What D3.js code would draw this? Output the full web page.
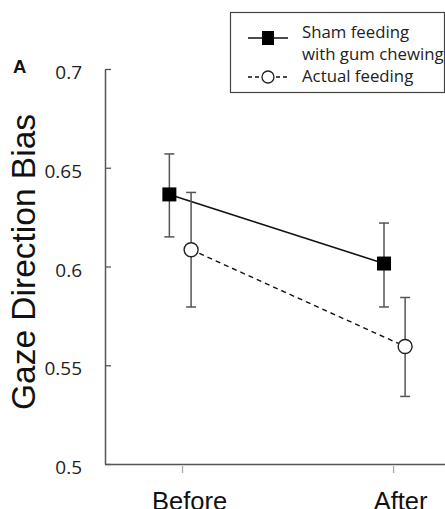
<!DOCTYPE html>
<html>
<head>
<meta charset="utf-8">
<script src="https://cdn.jsdelivr.net/npm/d3@7"></script>
<style>
  html, body { margin: 0; padding: 0; background: #fff; }
  svg { display: block; }
</style>
</head>
<body>
<div id="chart"></div>
<script>
// Gaze direction bias before / after feeding

const timepoints = ['Before', 'After'];
const timeIndex = [1, 2];
const yTicks = [0.5, 0.55, 0.6, 0.65, 0.7];

// sham feeding with gum chewing
const shamX = [0.94, 1.957];
const shamMean = [0.6365, 0.6015];
const shamUpper = [0.657, 0.622];
const shamLower = [0.615, 0.5795];

// actual feeding
const actualX = [1.043, 2.057];
const actualMean = [0.6085, 0.5595];
const actualUpper = [0.6375, 0.5843];
const actualLower = [0.5795, 0.5342];

const legendLabels = [['Sham feeding', 'with gum chewing'], ['Actual feeding']];

const W = 445, H = 509;
const axisColor = '#555';
const tickFont = '"Open Sans", sans-serif';

const svg = d3.select('#chart').append('svg')
  .attr('width', W)
  .attr('height', H);

const x = d3.scaleLinear().domain([0.635, 2.246]).range([105, 445]);
const y = d3.scaleLinear().domain([0.5, 0.7]).range([464, 69]);

// y axis, ticks pointing inward
const yAxis = svg.append('g')
  .attr('transform', `translate(${x(0.635)},0)`)
  .call(d3.axisLeft(y)
    .tickValues(yTicks)
    .tickFormat(d => String(+d.toFixed(2)))
    .tickSizeInner(-6)
    .tickSizeOuter(0)
    .tickPadding(23));
yAxis.select('.domain').attr('stroke', axisColor).attr('stroke-width', 1.5);
yAxis.selectAll('.tick line').attr('stroke', axisColor).attr('stroke-width', 1.3);
yAxis.selectAll('.tick text')
  .attr('fill', '#222')
  .attr('dy', '0.5em')
  .style('font-family', tickFont)
  .style('font-size', '19px');

// x axis
const xAxis = svg.append('g')
  .attr('transform', `translate(0,${y(0.5)})`)
  .call(d3.axisBottom(x)
    .tickValues(timeIndex)
    .tickFormat((d, i) => timepoints[i])
    .tickSizeInner(9)
    .tickSizeOuter(0)
    .tickPadding(19));
xAxis.select('.domain').attr('stroke', axisColor).attr('stroke-width', 1.5);
xAxis.selectAll('.tick line').attr('stroke', '#aaa').attr('stroke-width', 1.3).attr('y1', 2);
xAxis.selectAll('.tick text')
  .attr('fill', '#111')
  .attr('dx', 7)
  .style('font-family', 'Liberation Sans, Arial, sans-serif')
  .style('font-size', '25.5px');

// y title
svg.append('text')
  .attr('transform', `translate(35,262) rotate(-90)`)
  .attr('text-anchor', 'middle')
  .attr('fill', '#111')
  .style('font-family', 'Liberation Sans, Arial, sans-serif')
  .style('font-size', '33.5px')
  .text('Gaze Direction Bias');

// panel letter
svg.append('text')
  .attr('x', 13).attr('y', 73)
  .attr('fill', '#111')
  .style('font-family', 'Liberation Sans, Arial, sans-serif')
  .style('font-weight', 'bold')
  .style('font-size', '18.5px')
  .text('A');

function build(xs, means, upper, lower) {
  return xs.map((v, i) => ({ x: v, m: means[i], hi: upper[i], lo: lower[i] }));
}
const sham = build(shamX, shamMean, shamUpper, shamLower);
const actual = build(actualX, actualMean, actualUpper, actualLower);

const line = d3.line().x(d => x(d.x)).y(d => y(d.m));

svg.append('path').datum(actual)
  .attr('d', line)
  .attr('fill', 'none')
  .attr('stroke', '#111')
  .attr('stroke-width', 1.4)
  .attr('stroke-dasharray', '5,4');

svg.append('path').datum(sham)
  .attr('d', line)
  .attr('fill', 'none')
  .attr('stroke', '#111')
  .attr('stroke-width', 1.5);

// error bars
function errorBars(data) {
  const g = svg.append('g').attr('stroke', '#555').attr('stroke-width', 1.5);
  g.selectAll('line.v').data(data).enter().append('line')
    .attr('x1', d => x(d.x)).attr('x2', d => x(d.x))
    .attr('y1', d => y(d.hi)).attr('y2', d => y(d.lo));
  g.selectAll('line.t').data(data).enter().append('line')
    .attr('x1', d => x(d.x) - 5).attr('x2', d => x(d.x) + 5)
    .attr('y1', d => y(d.hi)).attr('y2', d => y(d.hi));
  g.selectAll('line.b').data(data).enter().append('line')
    .attr('x1', d => x(d.x) - 5).attr('x2', d => x(d.x) + 5)
    .attr('y1', d => y(d.lo)).attr('y2', d => y(d.lo));
}
errorBars(sham);
errorBars(actual);

// markers
svg.append('g').selectAll('rect').data(sham).enter().append('rect')
  .attr('x', d => x(d.x) - 7).attr('y', d => y(d.m) - 7)
  .attr('width', 14).attr('height', 14)
  .attr('fill', '#000');

svg.append('g').selectAll('circle').data(actual).enter().append('circle')
  .attr('cx', d => x(d.x)).attr('cy', d => y(d.m))
  .attr('r', 7)
  .attr('fill', '#fff')
  .attr('stroke', '#222')
  .attr('stroke-width', 1.4);

// legend
const lg = svg.append('g');
lg.append('rect')
  .attr('x', 230.5).attr('y', 12.5)
  .attr('width', 214).attr('height', 80)
  .attr('fill', '#fff')
  .attr('stroke', '#444')
  .attr('stroke-width', 1.2);

lg.append('line')
  .attr('x1', 248).attr('x2', 288).attr('y1', 38).attr('y2', 38)
  .attr('stroke', '#111').attr('stroke-width', 1.5);
lg.append('rect')
  .attr('x', 262).attr('y', 31).attr('width', 12).attr('height', 14)
  .attr('fill', '#000');

lg.append('line')
  .attr('x1', 248).attr('x2', 290).attr('y1', 77).attr('y2', 77)
  .attr('stroke', '#111').attr('stroke-width', 1.3)
  .attr('stroke-dasharray', '4,3');
lg.append('circle')
  .attr('cx', 268).attr('cy', 77).attr('r', 6)
  .attr('fill', '#fff').attr('stroke', '#222').attr('stroke-width', 1.3);

const legendY = [[38, 60], [82]];
legendLabels.forEach((lines, i) => {
  lines.forEach((t, j) => {
    lg.append('text')
      .attr('x', 302).attr('y', legendY[i][j])
      .attr('fill', '#222')
      .style('font-family', tickFont)
      .style('font-size', '16.8px')
      .text(t);
  });
});
</script>
</body>
</html>
